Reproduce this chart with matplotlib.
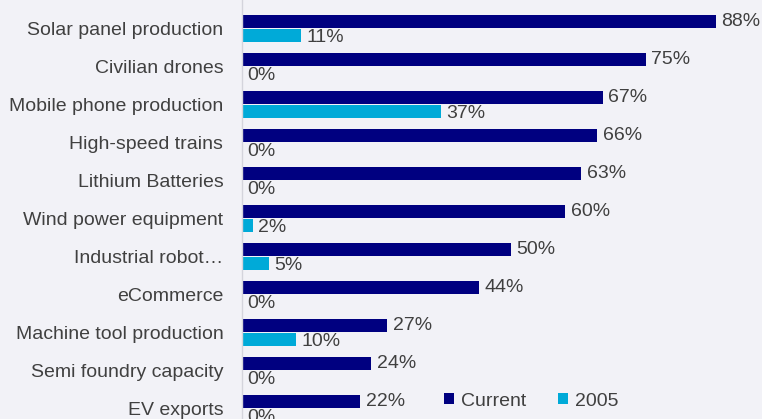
import matplotlib.pyplot as plt
import numpy as np

plt.rcParams['font.family'] = ['Liberation Sans', 'DejaVu Sans']

categories = ['Solar panel production', 'Civilian drones', 'Mobile phone production',
              'High-speed trains', 'Lithium Batteries', 'Wind power equipment',
              'Industrial robot\u2026', 'eCommerce', 'Machine tool production',
              'Semi foundry capacity', 'EV exports']
current = [88, 75, 67, 66, 63, 60, 50, 44, 27, 24, 22]
y2005 = [11, 0, 37, 0, 0, 2, 5, 0, 10, 0, 0]

bg = '#f2f2f7'
navy = '#000080'
cyan = '#00aad8'
txt = '#404040'

fig = plt.figure(figsize=(7.62, 4.19), dpi=100, facecolor=bg)
ax = fig.add_axes([242 / 762, 0, 520 / 762, 1])
ax.set_facecolor(bg)

pos = np.arange(len(categories))
h = 0.33
off = 0.19
b1 = ax.barh(pos - off, current, height=h, color=navy, label='Current')
b2 = ax.barh(pos + off, y2005, height=h, color=cyan, label='2005')

# value labels just past the end of each bar
for yy, v in zip(pos - off, current):
    ax.text(v + 1.0, yy, f'{v}%', va='center', ha='left', fontsize=14, color=txt)
for yy, v in zip(pos + off, y2005):
    ax.text(v + 1.0, yy + 0.05, f'{v}%', va='center', ha='left', fontsize=14, color=txt)

ax.set_xlim(0, 96.55)
ax.set_ylim(10.276, -0.75)
ax.set_yticks(pos)
ax.set_yticklabels(categories, fontsize=14, color=txt)
ax.tick_params(axis='y', length=0, pad=13.5)
ax.set_xticks([])
for s in ['top', 'right', 'bottom']:
    ax.spines[s].set_visible(False)
ax.spines['left'].set_color('#d4d4dc')
ax.spines['left'].set_linewidth(1)

fig.legend(handles=[b1, b2], loc='center left', bbox_to_anchor=(436 / 762, 1 - 401 / 419),
           ncol=2, frameon=False, fontsize=14, handlelength=0.55, handleheight=0.55,
           handletextpad=0.35, columnspacing=1.6, labelcolor=txt, borderaxespad=0)

fig.savefig('out.png', dpi=100, facecolor=bg)
